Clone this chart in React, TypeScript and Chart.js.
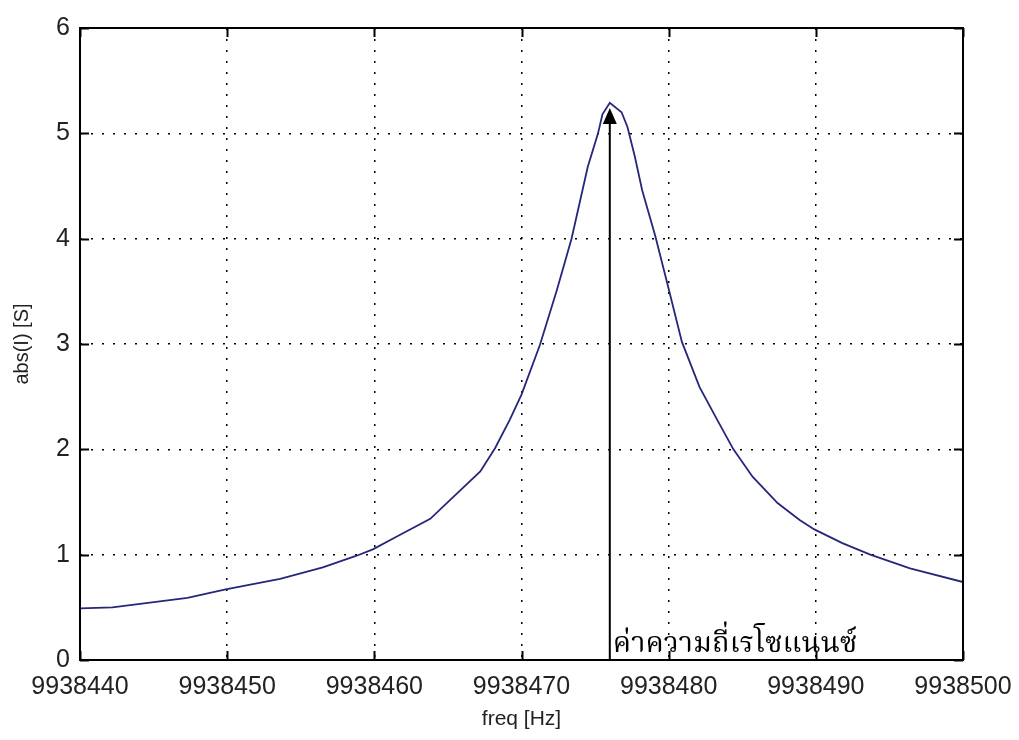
import React, { useEffect, useRef } from "react";
import { Chart, registerables } from "chart.js";

Chart.register(...registerables);

// Frequency samples [Hz] and measured |I| [S]
const freqHz = [
  9938440.0, 9938442.2, 9938447.3, 9938449.9, 9938453.6, 9938456.5, 9938458.8,
  9938459.9, 9938461.5, 9938463.8, 9938465.3, 9938467.2, 9938468.2, 9938469.2,
  9938470.0, 9938471.25, 9938472.4, 9938473.4, 9938474.5, 9938475.2, 9938475.5,
  9938476.0, 9938476.8, 9938477.2, 9938477.7, 9938478.2, 9938479.1, 9938479.9,
  9938480.9, 9938482.1, 9938483.3, 9938484.4, 9938485.7, 9938487.4, 9938488.9,
  9938489.9, 9938491.8, 9938493.7, 9938496.4, 9938500.0,
];
const absI = [
  0.49, 0.5, 0.59, 0.67, 0.77, 0.88, 0.99, 1.05, 1.17, 1.34, 1.54, 1.79, 2.01,
  2.28, 2.52, 2.99, 3.51, 4.0, 4.68, 5.0, 5.18, 5.29, 5.2, 5.06, 4.78, 4.46, 4.02,
  3.58, 3.02, 2.59, 2.28, 2.0, 1.74, 1.49, 1.33, 1.24, 1.11, 1.0, 0.87, 0.74,
];

const xTicks = [9938440, 9938450, 9938460, 9938470, 9938480, 9938490, 9938500];
const yTicks = [0, 1, 2, 3, 4, 5, 6];

// Resonance annotation
const resonanceFreq = 9938476;
const arrowTip = 5.24;
const annotationText = "ค่าความถี่เรโซแนนซ์";

const xTitle = "freq [Hz]";
const yTitle = "abs(I) [S]";

const decorPlugin = {
  id: "decor",
  afterDatasetsDraw(chart: any) {
    const { ctx, chartArea, scales } = chart;
    const { left, right, top, bottom } = chartArea;
    const x = scales.x;
    const y = scales.y;
    ctx.save();
    ctx.strokeStyle = "#000";
    ctx.lineWidth = 2;
    ctx.setLineDash([]);
    ctx.strokeRect(left, top, right - left, bottom - top);
    const tl = 9;
    ctx.beginPath();
    xTicks.forEach((v) => {
      const px = Math.round(x.getPixelForValue(v)) + 0.5;
      ctx.moveTo(px, bottom);
      ctx.lineTo(px, bottom - tl);
      ctx.moveTo(px, top);
      ctx.lineTo(px, top + tl);
    });
    yTicks.forEach((v) => {
      const py = Math.round(y.getPixelForValue(v)) + 0.5;
      ctx.moveTo(left, py);
      ctx.lineTo(left + tl, py);
      ctx.moveTo(right, py);
      ctx.lineTo(right - tl, py);
    });
    ctx.stroke();

    // arrow head
    const ax = x.getPixelForValue(resonanceFreq);
    const ay = y.getPixelForValue(arrowTip);
    ctx.fillStyle = "#000";
    ctx.beginPath();
    ctx.moveTo(ax, ay);
    ctx.lineTo(ax - 7, ay + 16);
    ctx.lineTo(ax + 7, ay + 16);
    ctx.closePath();
    ctx.fill();

    // annotation text
    ctx.font = "29px 'Noto Serif Thai', 'Noto Sans Thai', serif";
    ctx.textBaseline = "alphabetic";
    ctx.textAlign = "left";
    ctx.fillText(annotationText, ax + 3, y.getPixelForValue(0.08));
    ctx.restore();
  },
};

export default function App() {
  const ref = useRef<HTMLCanvasElement | null>(null);
  useEffect(() => {
    if (!ref.current) return;
    const chart = new Chart(ref.current, {
      type: "line",
      data: {
        datasets: [
          {
            data: freqHz.map((f, i) => ({ x: f, y: absI[i] })),
            borderColor: "#26267a",
            borderWidth: 1.8,
            pointRadius: 0,
            tension: 0,
          },
          {
            data: [
              { x: resonanceFreq, y: 0 },
              { x: resonanceFreq, y: arrowTip - 0.1 },
            ],
            borderColor: "#000",
            borderWidth: 2,
            pointRadius: 0,
          },
        ],
      },
      options: {
        animation: false,
        responsive: false,
        events: [],
        layout: { padding: { left: 0, top: 28, right: 56, bottom: 0 } },
        plugins: { legend: { display: false }, tooltip: { enabled: false } },
        scales: {
          x: {
            type: "linear",
            min: 9938440,
            max: 9938500,
            afterBuildTicks: (s: any) => {
              s.ticks = xTicks.map((v) => ({ value: v }));
            },
            afterFit: (s: any) => {
              s.height = 80;
              s.paddingLeft = 0;
              s.paddingRight = 0;
            },
            ticks: {
              callback: (v: any) => String(v),
              color: "#222",
              padding: 12,
              maxRotation: 0,
              autoSkip: false,
              font: { family: "'Liberation Sans', Arial, sans-serif", size: 25 },
            },
            grid: { color: "#000", lineWidth: 1.5, drawTicks: false },
            border: { display: false, dash: [2, 9] },
            title: {
              display: true,
              text: xTitle,
              color: "#222",
              padding: { top: 0, bottom: 8 },
              font: { family: "'Liberation Sans', Arial, sans-serif", size: 21 },
            },
          },
          y: {
            type: "linear",
            min: 0,
            max: 6,
            afterBuildTicks: (s: any) => {
              s.ticks = yTicks.map((v) => ({ value: v }));
            },
            afterFit: (s: any) => {
              s.width = 80;
              s.paddingTop = 0;
              s.paddingBottom = 0;
            },
            ticks: {
              color: "#222",
              padding: 10,
              font: { family: "'Liberation Sans', Arial, sans-serif", size: 25 },
            },
            grid: { color: "#000", lineWidth: 1.5, drawTicks: false },
            border: { display: false, dash: [2, 9] },
            title: {
              display: true,
              text: yTitle,
              color: "#222",
              padding: { top: 10, bottom: 0 },
              font: { family: "'Liberation Sans', Arial, sans-serif", size: 20 },
            },
          },
        },
      },
      plugins: [decorPlugin],
    } as any);
    return () => chart.destroy();
  }, []);
  return (
    <div style={{ position: "fixed", left: 0, top: 0, width: 1019, height: 740, background: "#fff" }}>
      <canvas ref={ref} width={1019} height={740} style={{ width: 1019, height: 740, display: "block" }} />
    </div>
  );
}
